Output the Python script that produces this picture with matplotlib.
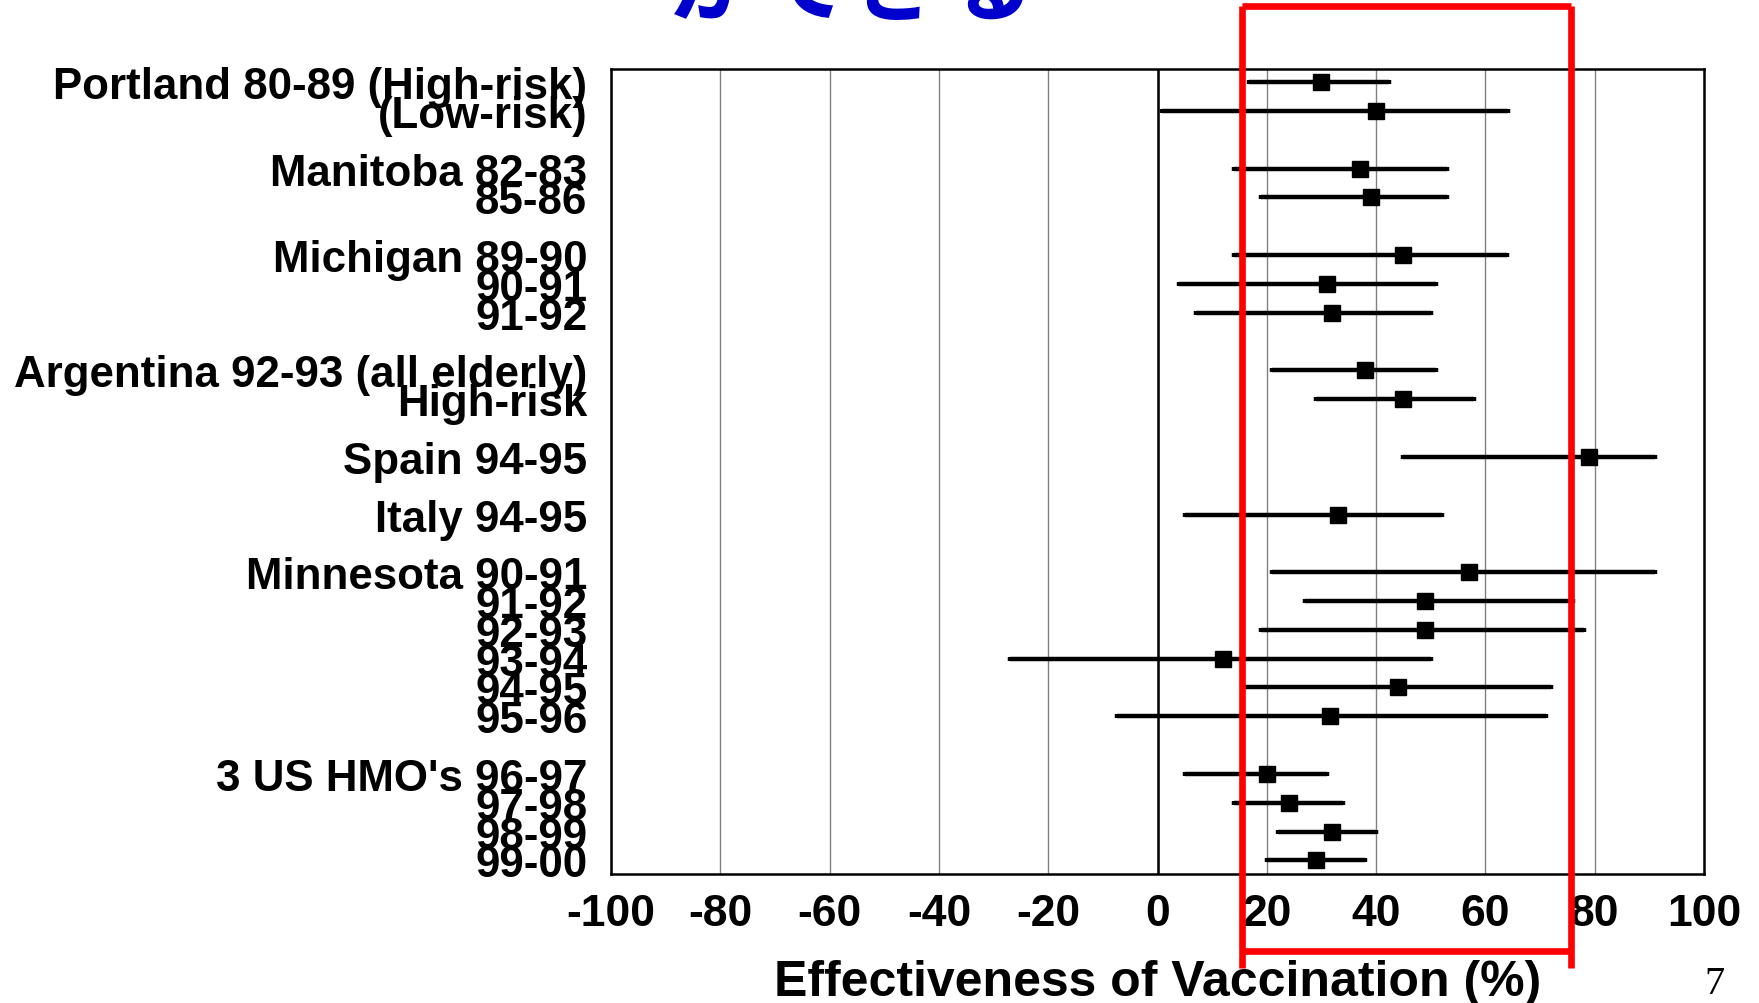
import matplotlib
matplotlib.use('Agg')
import matplotlib.pyplot as plt
from matplotlib.transforms import blended_transform_factory
from matplotlib.lines import Line2D

plt.rcParams['font.family'] = ['Liberation Sans', 'DejaVu Sans']

# ---- data ----
study_labels = [
    "Portland 80-89 (High-risk)", "(Low-risk)",
    "Manitoba 82-83", "85-86",
    "Michigan 89-90", "90-91", "91-92",
    "Argentina 92-93 (all elderly)", "High-risk",
    "Spain 94-95",
    "Italy 94-95",
    "Minnesota 90-91", "91-92", "92-93", "93-94", "94-95", "95-96",
    "3 US HMO's 96-97", "97-98", "98-99", "99-00",
]
group_sizes = [2, 2, 3, 2, 1, 1, 6, 4]
effect = [30, 40, 37, 39, 45, 31, 32, 38, 45, 79, 33,
          57, 49, 49, 12, 44, 31.5, 20, 24, 32, 29]
ci_low = [16.8, 0.9, 14, 19, 14, 4, 7, 21, 29, 45, 5,
          21, 27, 19, -27, 16, -7.5, 5, 14, 22, 20]
ci_high = [42.4, 64.2, 53, 53, 64, 51, 50, 51, 58, 91, 52,
           91, 76, 78, 50, 72, 71, 31, 34, 40, 38]
xticks = [-100, -80, -60, -40, -20, 0, 20, 40, 60, 80, 100]
highlight_range = [15.4, 75.7]
x_label = "Effectiveness of Vaccination (%)"
title_text = "ができる"
page_number = "7"

# ---- row positions (gap between groups) ----
positions = []
p = 0
for g in group_sizes:
    for _ in range(g):
        positions.append(p)
        p += 1
    p += 1

W, H = 1759, 1004
fig = plt.figure(figsize=(W / 100, H / 100), dpi=100)
ax = fig.add_axes([611 / W, 1 - 875 / H, (1704 - 611) / W, (875 - 69.6) / H])

xerr = [[e - l for e, l in zip(effect, ci_low)],
        [h - e for e, h in zip(effect, ci_high)]]
ax.errorbar(effect, positions, xerr=xerr, fmt='s', color='black',
            ecolor='black', elinewidth=3.2, capsize=1.6, capthick=3.2,
            markersize=11.5, zorder=5)

ax.set_xlim(-100, 100)
ax.set_ylim(positions[-1] + 0.47, -0.47)
ax.set_xticks(xticks)
ax.set_xticklabels([str(t) for t in xticks], fontsize=32, fontweight='bold')
ax.set_yticks(positions)
ax.set_yticklabels(study_labels, fontsize=31.6, fontweight='bold')
ax.tick_params(axis='x', length=0, pad=14)
ax.tick_params(axis='y', length=0, pad=17)
ax.grid(axis='x', color='#808080', linewidth=1.0)
ax.axvline(0, color='black', linewidth=1.8, zorder=2)
for s in ax.spines.values():
    s.set_linewidth(1.8)
    s.set_color('black')

fig.text(1158 / W, 1 - 983 / H, x_label, ha='center', va='center',
         fontsize=36, fontweight='bold')

# red highlight rectangle
tr = blended_transform_factory(ax.transData, fig.transFigure)
x0, x1 = highlight_range
yt = 1 - 7 / H
yb = 1 - 952 / H
yv = 1 - 969 / H
red_kw = dict(color='#FF0000', linewidth=4.8, transform=tr, clip_on=False,
              solid_capstyle='butt', zorder=10)
for xs, ys in [([x0, x0], [yt, yv]), ([x1, x1], [yt, yv]),
               ([x0, x1], [yt, yt]), ([x0, x1], [yb, yb])]:
    fig.add_artist(Line2D(xs, ys, **red_kw))

# partially visible title at top
fig.text(852 / W, 1 - 14 / H, title_text, ha='center', va='baseline',
         fontsize=66, fontweight='bold', color='#0000CC',
         family=['Noto Sans CJK JP', 'DejaVu Sans'])

fig.text(1714 / W, 1 - 985 / H, page_number, ha='center', va='center',
         fontsize=29, family=['Liberation Serif', 'DejaVu Serif'])

fig.savefig('out.png', dpi=100)
